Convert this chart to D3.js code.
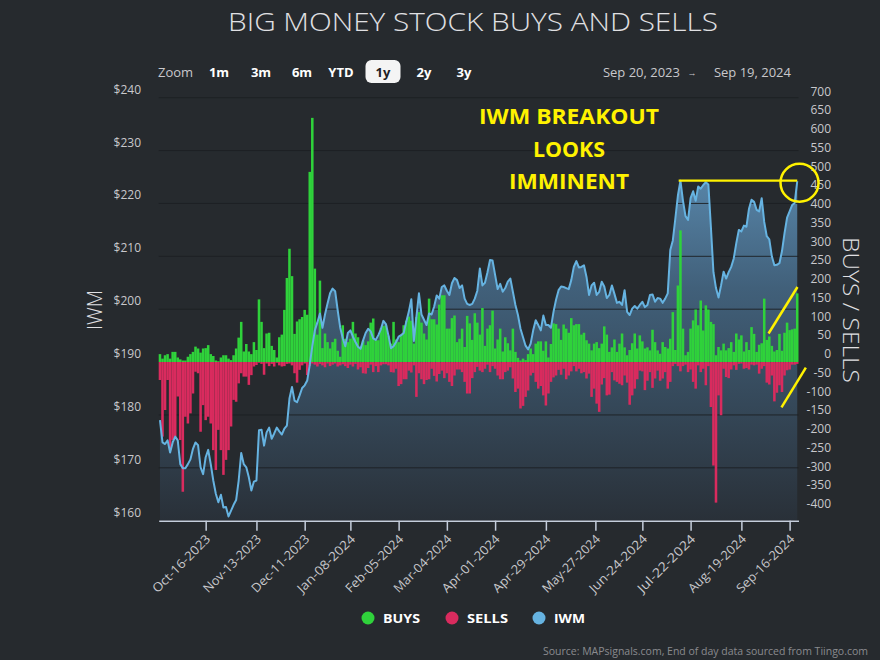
<!DOCTYPE html>
<html><head><meta charset="utf-8">
<script src="https://cdn.jsdelivr.net/npm/d3@7/dist/d3.min.js"></script>
<style>
html,body{margin:0;padding:0;background:#262a2e;}
svg{display:block;}
text{font-family:"Open Sans",sans-serif;}
</style></head><body>
<svg id="chart" width="880" height="660"></svg>
<script>
// ---------- data ----------
const title = "BIG MONEY STOCK BUYS AND SELLS";
const startDate = "2023-09-20";
const holidays = ["2023-11-23","2023-12-25","2024-01-01","2024-01-15","2024-02-19","2024-03-29","2024-05-27","2024-06-19","2024-07-04","2024-09-02"];
const tickDates = ["2023-10-16","2023-11-13","2023-12-11","2024-01-08","2024-02-05","2024-03-04","2024-04-01","2024-04-29","2024-05-27","2024-06-24","2024-07-22","2024-08-19","2024-09-16"];
const tickLabels = ["Oct-16-2023","Nov-13-2023","Dec-11-2023","Jan-08-2024","Feb-05-2024","Mar-04-2024","Apr-01-2024","Apr-29-2024","May-27-2024","Jun-24-2024","Jul-22-2024","Aug-19-2024","Sep-16-2024"];
const priceTicks = [160,170,180,190,200,210,220,230,240];
const flowTicks = [-400,-350,-300,-250,-200,-150,-100,-50,0,50,100,150,200,250,300,350,400,450,500,550,600,650,700];
const zoomButtons = ["1m","3m","6m","YTD","1y","2y","3y"];
const selectedButton = "1y";
const rangeFrom = "Sep 20, 2023", rangeTo = "Sep 19, 2024";
const annotationLines = ["IWM BREAKOUT","LOOKS","IMMINENT"];
const breakoutLevel = 224.3;

const buys = [21,9,18,21,9,27,27,12,7,4, 4,14,21,27,41,36,25,36,37,45, 21,16,4,2,12,18,18,9,5,18, 36,65,107,28,48,28,21,53,32,167, 107,37,76,78,43,32,12,66,73,139, 224,302,229,75,108,114,120,139,126,507, 651,249,73,217,37,
 76,53,36,53,62,30,14,98,62,53,62,107,76,66,41,57,45,55,
 105,116,58,58,90,96,98,70,49,107, 60,53,73,98,110,121,110,49,120,133, 105,76,60,169,114,114,100,153,178,178, 89,89,117,124,53,62,89,40,123,103, 59,130,
 105,73,144,43,89,98,137,36,60,89, 28,66,50,31,89,27,11,4,9,5, 21,36,21,49,55,55,30,55,12,48, 103,101,89,59,100,89,78,117,98,101, 101,73,78,
 58,49,31,49,53,37,49,95,73,27, 39,60,27,49,76,39,18,32,50,76, 36,71,55,36,39,31,86,53,31,22, 53,40,36,62,133,32,204,351,89,18, 27,89,
 111,140,98,164,84,151,140,107,101,18, 40,31,49,31,37,53,27,76,60,71, 28,53,32,93,75,27,46,50,169,59, 68,43,28,32,75,30,78,105,85,87, 89,183];

const sells = [48,199,128,48,235,208,199,92,208,346, 146,164,137,84,26,30,186,115,155,146, 164,235,288,181,235,301,261,235,172,101, 106,57,30,39,39,61,35,12,8,2, 5,34,4,11,5,12,2,9,12,11, 5,4,9,30,55,21,9,4,35,
 10,4,7,12,5,9,14,4,11,7, 4,12,9,6,11,16,7,12,5,20, 14,30,
 31,16,7,27,11,27,9,6,6,9, 27,28,18,64,59,46,46,23,28,9, 93,30,46,59,48,46,18,37,52,32, 23,43,30,53,64,36,20,20,27,53, 84,84,43,27,
 13,23,27,18,7,27,11,18,36,46, 46,27,23,14,44,80,71,124,117,93, 76,36,29,53,71,64,89,116,84,53, 41,36,21,34,18,46,36,25,11,25, 18,30,27,
 44,31,93,71,111,133,60,43,89,87, 27,49,53,58,62,36,55,114,89,71, 46,23,25,75,50,27,69,44,23,50, 44,27,71,53,11,5,11,25,11,7, 27,20,
 53,71,9,27,18,62,11,120,276,375, 89,142,18,40,43,20,9,21,5,4, 18,16,20,7,9,7,31,18,11,55, 60,36,105,82,62,80,36,22,20,7, 7,5];

const iwm = [179.0,174.8,174.5,175.2,172.9,174.8,175.9,175.2,170.7,169.9, 169.9,170.7,171.6,173.6,174.8,174.3,170.1,168.8,172.0,173.4, 170.7,167.6,165.1,163.5,164.9,162.5,162.6,160.8,161.9,163.0, 163.9,167.6,172.8,170.7,170.1,168.2,165.7,167.4,167.6,177.1, 177.2,174.2,176.7,177.6,175.5,176.5,177.6,176.9,176.3,177.4, 178.0,183.1,185.3,182.7,182.4,183.7,185.1,185.6,186.5,
 189.5,193.0,196.0,197.5,199.2,196.5,199.0,201.1,203.0,203.9, 203.4,199.8,196.5,194.5,193.0,195.5,196.0,194.8,193.8,192.9, 192.5,194.1,
 195.5,196.3,195.8,194.5,194.2,195.1,196.2,197.8,197.2,195.0, 192.6,193.0,193.8,194.8,195.1,195.5,197.6,199.5,201.9,194.0, 198.5,203.0,199.0,198.0,197.0,199.2,199.0,200.5,202.6,202.0, 204.2,204.5,203.5,202.7,204.9,205.9,205.5,204.0,204.5,202.0, 201.0,200.8,201.0,202.0,
 203.5,207.7,204.5,205.0,207.0,209.3,209.2,206.5,203.8,204.8, 203.3,204.0,205.2,205.8,203.3,200.8,198.9,196.3,194.7,193.1, 192.4,193.5,196.0,197.9,197.0,196.0,198.8,197.0,197.0,196.5, 199.5,201.8,203.6,204.3,204.2,204.0,203.8,205.5,208.0,209.1, 207.9,208.0,208.3,
 206.1,202.7,204.5,205.0,202.7,203.3,205.2,204.3,202.1,202.7, 204.5,202.9,201.2,201.4,200.8,203.6,199.5,198.9,200.1,200.6, 200.1,200.8,201.4,200.4,200.8,202.7,202.8,201.4,202.1,202.0, 201.2,202.0,203.0,211.2,213.0,217.2,221.5,224.3,220.5,217.6, 216.9,221.0,
 222.3,220.5,223.2,222.8,223.5,224.0,223.6,215.5,207.0,204.0, 202.2,204.5,207.1,205.8,207.0,208.0,209.6,212.5,215.0,214.7, 215.8,215.6,219.0,220.7,220.3,218.8,218.5,221.0,216.5,213.8, 213.2,210.0,208.3,208.4,208.7,211.0,214.4,217.3,218.5,219.7, 220.1,224.2];

// ---------- trading-day categories ----------
const tradingDays = [];
{
  const fmt = d3.utcFormat("%Y-%m-%d");
  let d = new Date(startDate + "T00:00:00Z");
  while (tradingDays.length < buys.length) {
    const wd = d.getUTCDay(), s = fmt(d);
    if (wd !== 0 && wd !== 6 && !holidays.includes(s)) tradingDays.push(s);
    d = new Date(d.getTime() + 86400000);
  }
}
const tickIndex = tickDates.map(t => {
  const k = tradingDays.indexOf(t);
  return k >= 0 ? k : tradingDays.findIndex(s => s > t) - 0.5;
});

// ---------- colors ----------
const C = {
  bg: "#262a2e", grid: "#1d2024", text: "#e0e0e3", label: "#c8c8cc",
  buy: "#2fd23b", sell: "#d92b5e", line: "#66b3e1", axis: "#c5cedc", yellow: "#fff200"
};

const svg = d3.select("#chart");
svg.append("rect").attr("width", 880).attr("height", 660).attr("fill", C.bg);

const plot = {left: 158.7, right: 798.5, top: 97.7, bottom: 520.7};
const x = d3.scaleLinear().domain([-0.5, buys.length - 0.5]).range([plot.left, plot.right]);
const yL = d3.scaleLinear().domain([160, 240]).range([plot.bottom, plot.top]);
const yR = d3.scaleLinear().domain([-400, 700]).range([512, 99.5]);
const bw = x(1) - x(0);

// title
svg.append("text").attr("x", 473).attr("y", 31).attr("text-anchor", "middle")
  .attr("fill", C.text).attr("font-size", 25).attr("font-weight", 300)
  .attr("textLength", 490).attr("lengthAdjust", "spacingAndGlyphs").text(title);

// range selector
svg.append("text").attr("x", 158).attr("y", 77).attr("fill", C.label).attr("font-size", 13).text("Zoom");
const btnX = [219, 261, 302, 341, 383, 424, 464];
zoomButtons.forEach((b, k) => {
  const sel = b === selectedButton;
  if (sel) svg.append("rect").attr("x", btnX[k] - 17.5).attr("y", 60).attr("width", 35).attr("height", 23).attr("rx", 6).attr("fill", "#f4f4f4");
  svg.append("text").attr("x", btnX[k]).attr("y", 77).attr("text-anchor", "middle")
    .attr("fill", sel ? "#1e2125" : "#ffffff").attr("font-size", 13).attr("font-weight", 700).text(b);
});
svg.append("text").attr("x", 680).attr("y", 77).attr("text-anchor", "end").attr("fill", C.label).attr("font-size", 13).text(rangeFrom);
svg.append("text").attr("x", 692).attr("y", 76).attr("text-anchor", "middle").attr("fill", C.label).attr("font-size", 9).text("→");
svg.append("text").attr("x", 791).attr("y", 77).attr("text-anchor", "end").attr("fill", C.label).attr("font-size", 13).text(rangeTo);

// gradient for area
const defs = svg.append("defs");
const grad = defs.append("linearGradient").attr("id", "areaGrad").attr("gradientUnits", "userSpaceOnUse")
  .attr("x1", 0).attr("x2", 0).attr("y1", plot.top).attr("y2", plot.bottom);
grad.append("stop").attr("offset", 0).attr("stop-color", "#679fc9");
grad.append("stop").attr("offset", 0.45).attr("stop-color", "#41607a");
grad.append("stop").attr("offset", 1).attr("stop-color", "#293038");

// area
const area = d3.area().x((d, i) => x(i)).y0(yL(160)).y1(d => yL(d));
svg.append("path").datum(iwm).attr("d", area).attr("fill", "url(#areaGrad)");

// gridlines
svg.append("g").selectAll("line").data(priceTicks).join("line")
  .attr("x1", plot.left).attr("x2", plot.right).attr("y1", d => yL(d)).attr("y2", d => yL(d))
  .attr("stroke", C.grid).attr("stroke-width", 1).attr("opacity", 0.9);

// bars
svg.append("g").selectAll("rect").data(buys).join("rect")
  .attr("x", (d, i) => x(i) - bw / 2).attr("width", bw)
  .attr("y", d => yR(d)).attr("height", d => yR(0) - yR(d)).attr("fill", C.buy);
svg.append("g").selectAll("rect").data(sells).join("rect")
  .attr("x", (d, i) => x(i) - bw / 2).attr("width", bw)
  .attr("y", yR(0)).attr("height", d => yR(-d) - yR(0)).attr("fill", C.sell);

// IWM line
const line = d3.line().x((d, i) => x(i)).y(d => yL(d));
svg.append("path").datum(iwm).attr("d", line).attr("fill", "none")
  .attr("stroke", C.line).attr("stroke-width", 2).attr("stroke-linejoin", "round");

// x axis
const xAxis = d3.axisBottom(x).tickValues(tickIndex).tickFormat((d, k) => tickLabels[k]).tickSize(10).tickSizeOuter(0);
const gx = svg.append("g").attr("transform", `translate(0,${plot.bottom})`).call(xAxis);
gx.select(".domain").attr("stroke", C.axis).attr("stroke-width", 1.5);
gx.selectAll(".tick line").attr("stroke", C.axis).attr("stroke-width", 1.5);
gx.selectAll(".tick text").attr("fill", C.label).attr("font-size", 12.5)
  .attr("font-family", "Open Sans").attr("text-anchor", "end")
  .attr("textLength", 76).attr("lengthAdjust", "spacingAndGlyphs")
  .attr("y", 0).attr("dy", "0.35em").attr("transform", "translate(2,16) rotate(-45)");

// left axis labels
svg.append("g").selectAll("text").data(priceTicks).join("text")
  .attr("x", 141).attr("y", d => yL(d) - 4).attr("text-anchor", "end")
  .attr("fill", C.label).attr("font-size", 12).text(d => "$" + d);
// right axis labels
svg.append("g").selectAll("text").data(flowTicks).join("text")
  .attr("x", 831).attr("y", d => yR(d) - 4).attr("text-anchor", "end")
  .attr("fill", C.label).attr("font-size", 12).text(d => d);

// axis titles
svg.append("text").attr("transform", "translate(102,310) rotate(-90)").attr("text-anchor", "middle")
  .attr("fill", C.text).attr("font-size", 20).attr("font-weight", 300).text("IWM");
svg.append("text").attr("transform", "translate(843,310) rotate(90)").attr("text-anchor", "middle")
  .attr("fill", C.text).attr("font-size", 22).attr("font-weight", 300).attr("textLength", 146).attr("lengthAdjust", "spacingAndGlyphs").text("BUYS / SELLS");

// annotations
const annY = [124, 156.5, 189];
const annW = [180, 72, 120];
annotationLines.forEach((t, k) => {
  svg.append("text").attr("x", 569).attr("y", annY[k]).attr("text-anchor", "middle")
    .attr("fill", C.yellow).attr("font-size", 22).attr("font-weight", 700)
    .attr("textLength", annW[k]).attr("lengthAdjust", "spacingAndGlyphs").text(t);
});
svg.append("line").attr("x1", x(204.3)).attr("x2", x(251)).attr("y1", yL(breakoutLevel)).attr("y2", yL(breakoutLevel))
  .attr("stroke", C.yellow).attr("stroke-width", 2.2);
svg.append("circle").attr("cx", x(251.9)).attr("cy", yL(breakoutLevel) + 2).attr("r", 19)
  .attr("fill", "none").attr("stroke", C.yellow).attr("stroke-width", 2.5);
svg.append("line").attr("x1", x(239.7)).attr("y1", yR(76)).attr("x2", x(251.1)).attr("y2", yR(200))
  .attr("stroke", C.yellow).attr("stroke-width", 2.5);
svg.append("line").attr("x1", x(244.8)).attr("y1", yR(-121)).attr("x2", x(254.4)).attr("y2", yR(-15))
  .attr("stroke", C.yellow).attr("stroke-width", 2.5);

// legend
const legend = [["BUYS", C.buy, 368, 37], ["SELLS", C.sell, 452, 41], ["IWM", C.line, 539, 31]];
legend.forEach(([t, c, cx, w]) => {
  svg.append("circle").attr("cx", cx).attr("cy", 618).attr("r", 6.5).attr("fill", c);
  svg.append("text").attr("x", cx + 15).attr("y", 623).attr("fill", "#ffffff").attr("font-size", 13)
    .attr("font-weight", 700).attr("textLength", w).attr("lengthAdjust", "spacingAndGlyphs").text(t);
});

// source
svg.append("text").attr("x", 868).attr("y", 655).attr("text-anchor", "end").attr("fill", "#8a8a8e")
  .attr("font-size", 10.5).text("Source: MAPsignals.com, End of day data sourced from Tiingo.com");
</script>
</body></html>
